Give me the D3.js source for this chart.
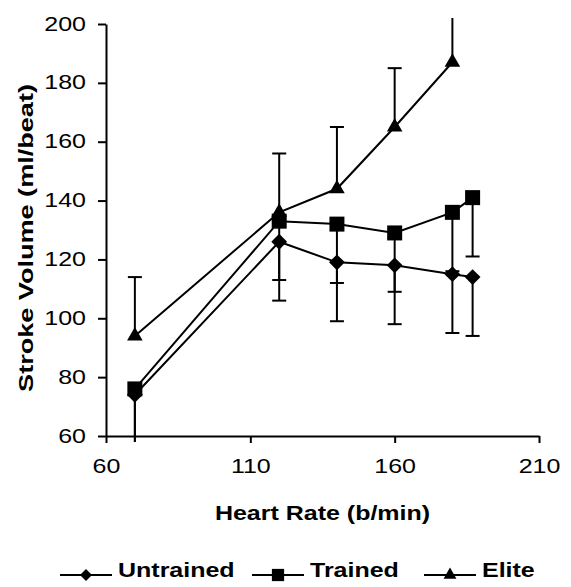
<!DOCTYPE html>
<html><head><meta charset="utf-8">
<script src="https://cdn.jsdelivr.net/npm/d3@7"></script>
<style>
body{margin:0;background:#fff;}
svg{display:block;}
text{font-family:"Liberation Sans",Arial,Helvetica,sans-serif;fill:#000;}
</style></head>
<body>
<svg id="chart" width="571" height="587"></svg>
<script>
// ---- data ----
const heartRate = [70, 120, 140, 160, 180, 187];
const untrained = [74, 126, 119, 118, 115, 114];
const untrainedErr = [20, 20, 20, 20, 20, 20];
const trained = [76, 133, 132, 129, 136, 141];
const trainedErr = [20, 20, 20, 20, 20, 20];
const eliteRate = [70, 120, 140, 160, 180];
const elite = [94, 136, 144, 165, 187];
const eliteErr = [20, 20, 21, 20, 20];
const xTicks = [60, 110, 160, 210];
const yTicks = [60, 80, 100, 120, 140, 160, 180, 200];
const seriesNames = ["Untrained", "Trained", "Elite"];

const svg = d3.select("#chart");
const SX = 1.25; // horizontal text stretch of the original typography
const x = d3.scaleLinear().domain([60, 210]).range([106, 539]);
const y = d3.scaleLinear().domain([60, 200]).range([436, 24]);

// axes
const yAxis = svg.append("g").attr("transform", `translate(${x(60)},0)`)
  .call(d3.axisLeft(y).tickValues(yTicks).tickSize(8).tickSizeOuter(0).tickPadding(0));
const xAxis = svg.append("g").attr("transform", `translate(0,${y(60)})`)
  .call(d3.axisBottom(x).tickValues(xTicks).tickSize(7).tickSizeOuter(0).tickPadding(0));
[yAxis, xAxis].forEach(g => {
  g.select(".domain").attr("stroke", "#000").attr("stroke-width", 2);
  g.selectAll(".tick line").attr("stroke", "#000").attr("stroke-width", 2);
  g.selectAll(".tick text").attr("font-size", 20).attr("font-family", "Liberation Sans, Arial, sans-serif").attr("fill", "#000");
});
yAxis.selectAll(".tick text").attr("x", -20 / SX).attr("dy", "0.30em").attr("transform", `scale(${SX},1)`);
xAxis.selectAll(".tick text").attr("y", 23).attr("dy", "0.71em").attr("transform", `scale(${SX},1)`);

// titles
svg.append("text").attr("transform", `translate(${(x(60)+x(210))/2},520) scale(${SX},1)`)
  .attr("text-anchor", "middle").attr("font-size", 20).attr("font-weight", "bold").text("Heart Rate (b/min)");
svg.append("text").attr("transform", `translate(33,238) rotate(-90) scale(1.29,1)`)
  .attr("text-anchor", "middle").attr("font-size", 21).attr("font-weight", "bold").text("Stroke Volume (ml/beat)");

// clip for error bars
svg.append("clipPath").attr("id", "errclip").append("rect")
  .attr("x", 0).attr("width", 571).attr("y", y(202)).attr("height", y(58) - y(202));

const ebars = svg.append("g").attr("clip-path", "url(#errclip)")
  .attr("stroke", "#000").attr("stroke-width", 2).attr("fill", "none");
function errorBars(xs, vals, errs, dir) {
  xs.forEach((hr, i) => {
    const v0 = vals[i], v1 = vals[i] + dir * errs[i];
    ebars.append("line").attr("x1", x(hr)).attr("x2", x(hr)).attr("y1", y(v0)).attr("y2", y(v1));
    ebars.append("line").attr("x1", x(hr) - 7).attr("x2", x(hr) + 7).attr("y1", y(v1)).attr("y2", y(v1));
  });
}
errorBars(heartRate, untrained, untrainedErr, -1);
errorBars(heartRate, trained, trainedErr, -1);
errorBars(eliteRate, elite, eliteErr, 1);

// lines + markers
const line = d3.line().x(d => x(d[0])).y(d => y(d[1]));
const series = [
  {name: seriesNames[0], pts: heartRate.map((h, i) => [h, untrained[i]]), type: d3.symbolSquare, size: 125, rot: 45, legSize: 72},
  {name: seriesNames[1], pts: heartRate.map((h, i) => [h, trained[i]]), type: d3.symbolSquare, size: 225, rot: 0, legSize: 150},
  {name: seriesNames[2], pts: eliteRate.map((h, i) => [h, elite[i]]), type: d3.symbolTriangle, size: 105, rot: 0, legSize: 72}
];
series.forEach(s => {
  svg.append("path").datum(s.pts).attr("d", line).attr("fill", "none").attr("stroke", "#000").attr("stroke-width", 2);
});
series.forEach(s => {
  const sym = d3.symbol().type(s.type).size(s.size);
  svg.append("g").selectAll("path").data(s.pts).join("path")
    .attr("transform", d => `translate(${x(d[0])},${y(d[1])}) rotate(${s.rot})`)
    .attr("d", sym).attr("fill", "#000");
});

// legend
const legendX = [60, 252, 424];
const legY = 575;
series.forEach((s, i) => {
  const g = svg.append("g").attr("transform", `translate(${legendX[i]},${legY})`);
  g.append("line").attr("x1", 0).attr("x2", 52).attr("y1", 0).attr("y2", 0).attr("stroke", "#000").attr("stroke-width", 2);
  g.append("path").attr("transform", `translate(26,0) rotate(${s.rot})`).attr("d", d3.symbol().type(s.type).size(s.legSize)).attr("fill", "#000");
  g.append("text").attr("transform", `translate(58,2) scale(${SX},1)`).attr("font-size", 20).attr("font-weight", "bold").text(s.name);
});
</script>
</body></html>
